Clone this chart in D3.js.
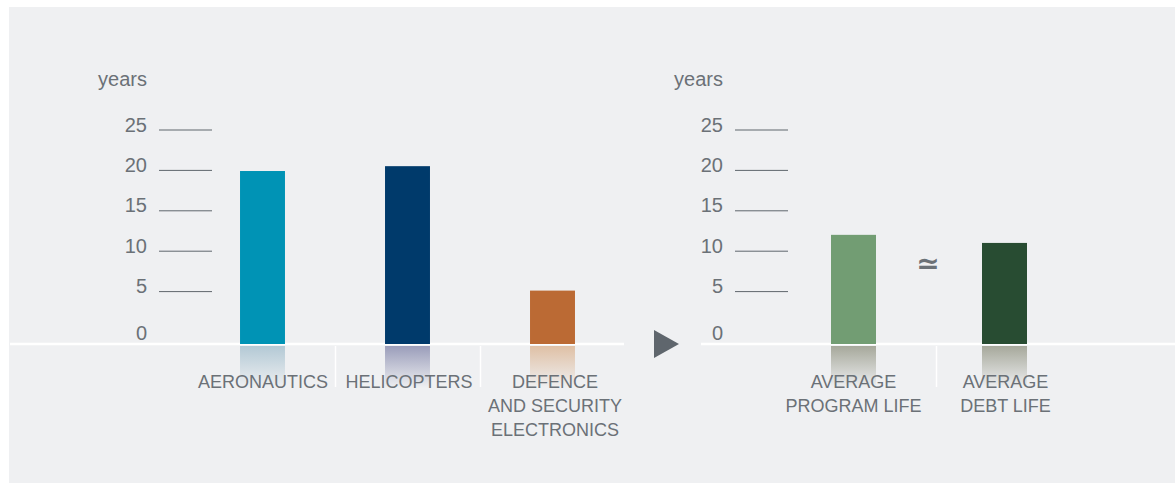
<!DOCTYPE html>
<html>
<head>
<meta charset="utf-8">
<script src="https://cdn.jsdelivr.net/npm/d3@7"></script>
<style>
  html, body { margin: 0; padding: 0; background: #ffffff; }
  svg { display: block; }
  text { font-family: "Liberation Sans", Arial, sans-serif; fill: #6b7177; }
</style>
</head>
<body>
<svg id="chart" width="1175" height="483"></svg>
<script>
// Sector program lengths (years)
const sectors = ["AERONAUTICS", "HELICOPTERS", "DEFENCE\nAND SECURITY\nELECTRONICS"];
const sectorYears = [19.8, 20.4, 5.0];
const sectorColors = ["#0093b5", "#003a6b", "#bb6a34"];
const sectorGlow = ["#b3c9d5", "#9a9dba", "#dfc0a5"];

// Program life vs debt life (years)
const lifeItems = ["AVERAGE\nPROGRAM LIFE", "AVERAGE\nDEBT LIFE"];
const lifeYears = [11.9, 10.9];
const lifeColors = ["#729d73", "#284c32"];
const lifeGlow = ["#a6a89b", "#a6a89b"];

const yTicks = [5, 10, 15, 20, 25];
const unitLabel = "years";

const svg = d3.select("#chart");
const baseY = 344;

// panel background
svg.append("rect").attr("x", 9).attr("y", 7).attr("width", 1166).attr("height", 476)
  .attr("fill", "#eff0f2");

const y = d3.scaleLinear().domain([0, 25]).range([331, 129]);

const defs = svg.append("defs");

function drawPanel(cfg) {
  const g = svg.append("g");
  const x = d3.scaleBand().domain(cfg.cats).range(cfg.range)
    .paddingInner(cfg.padIn).paddingOuter(cfg.padIn / 2);

  // unit label
  g.append("text").attr("x", cfg.labelX).attr("y", 86)
    .attr("text-anchor", "end").attr("font-size", 20).text(unitLabel);

  // gridline stubs + tick labels
  const axis = d3.axisLeft(y).tickValues(yTicks).tickSize(0).tickPadding(0);
  const ag = g.append("g").attr("transform", `translate(${cfg.labelX},0)`).call(axis);
  ag.select(".domain").remove();
  ag.selectAll(".tick text")
    .attr("x", 0).attr("dy", "0.1em")
    .attr("font-size", 20)
    .style("font-family", "'Liberation Sans', Arial, sans-serif")
    .attr("fill", "#6e757b");
  ag.selectAll(".tick").append("line")
    .attr("x1", cfg.tickX[0] - cfg.labelX).attr("x2", cfg.tickX[1] - cfg.labelX)
    .attr("y1", 0.5).attr("y2", 0.5)
    .attr("stroke", "#5f666d").attr("stroke-width", 1);

  // zero label sits just above the baseline
  g.append("text").attr("x", cfg.labelX).attr("y", baseY - 4)
    .attr("text-anchor", "end").attr("font-size", 20).attr("fill", "#6e757b").text("0");

  // reflections under the baseline
  cfg.cats.forEach((c, i) => {
    const id = `${cfg.id}-fade-${i}`;
    const lg = defs.append("linearGradient").attr("id", id)
      .attr("x1", 0).attr("y1", 0).attr("x2", 0).attr("y2", 1);
    lg.append("stop").attr("offset", "0%").attr("stop-color", cfg.glow[i]).attr("stop-opacity", 1);
    lg.append("stop").attr("offset", "100%").attr("stop-color", cfg.glow[i]).attr("stop-opacity", 0);
  });
  g.selectAll("rect.glow").data(cfg.cats).join("rect").attr("class", "glow")
    .attr("x", d => x(d)).attr("width", x.bandwidth())
    .attr("y", baseY + 2).attr("height", 42)
    .attr("fill", (d, i) => `url(#${cfg.id}-fade-${i})`);

  // bars
  g.selectAll("rect.bar").data(cfg.vals).join("rect").attr("class", "bar")
    .attr("x", (d, i) => x(cfg.cats[i])).attr("width", x.bandwidth())
    .attr("y", d => y(d)).attr("height", d => baseY - y(d))
    .attr("fill", (d, i) => cfg.colors[i]);

  // separators between categories
  const step = x.step();
  cfg.cats.slice(1).forEach((c, i) => {
    const sx = Math.round(x(c) + x.bandwidth() / 2 - step / 2) + 0.5 + cfg.sepShift;
    g.append("line").attr("x1", sx).attr("x2", sx)
      .attr("y1", baseY + 2).attr("y2", 387)
      .attr("stroke", "#ffffff").attr("stroke-width", 1.5);
  });

  // category labels
  cfg.cats.forEach((c, i) => {
    const cx = x(c) + x.bandwidth() / 2 + cfg.labelShift[i];
    const t = g.append("text")
      .attr("x", cx).attr("y", 388).attr("text-anchor", "middle")
      .attr("font-size", 18);
    c.split("\n").forEach((line, k) => {
      t.append("tspan").attr("x", cx).attr("dy", k === 0 ? 0 : 24).text(line);
    });
  });
  return x;
}

// baseline
svg.append("line").attr("x1", 10).attr("x2", 624).attr("y1", baseY).attr("y2", baseY)
  .attr("stroke", "#ffffff").attr("stroke-width", 2.5);
svg.append("line").attr("x1", 701).attr("x2", 1175).attr("y1", baseY).attr("y2", baseY)
  .attr("stroke", "#ffffff").attr("stroke-width", 2.5);

drawPanel({
  id: "sec", cats: sectors, vals: sectorYears, colors: sectorColors, glow: sectorGlow,
  range: [190, 625], padIn: 0.69, labelX: 147, tickX: [159, 212], sepShift: 0,
  labelShift: [0.5, 1.5, 2.5]
});
drawPanel({
  id: "life", cats: lifeItems, vals: lifeYears, colors: lifeColors, glow: lifeGlow,
  range: [778, 1080], padIn: 0.702, labelX: 723, tickX: [735, 788], sepShift: 7,
  labelShift: [0, 1]
});

// arrow between the two panels
svg.append("path").attr("d", "M654,330 L679,344 L654,358 Z").attr("fill", "#5f666d");

// approximately-equal sign between the two life bars
svg.append("text").attr("x", 928).attr("y", 273).attr("text-anchor", "middle")
  .attr("font-size", 28).attr("font-weight", "bold")
  .style("font-family", "'DejaVu Sans', sans-serif").attr("fill", "#5f666d").text("≃");
</script>
</body>
</html>
